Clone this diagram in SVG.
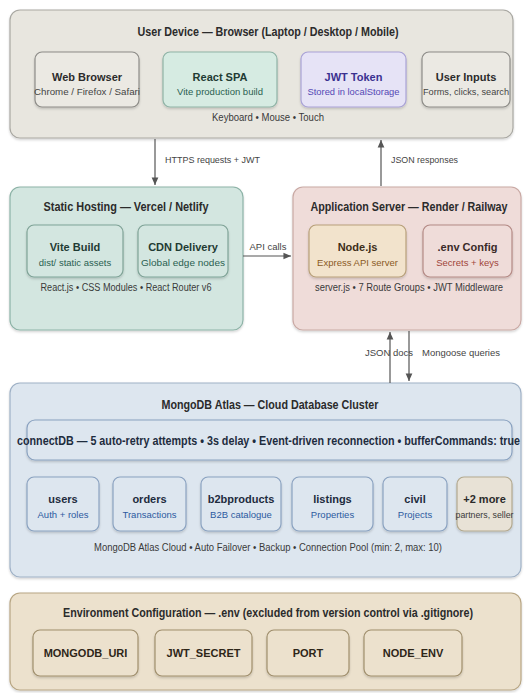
<svg xmlns="http://www.w3.org/2000/svg" width="525" height="693" viewBox="0 0 525 693">
<defs>
<marker id="ah" viewBox="0 0 10 10" refX="9" refY="5" markerWidth="7" markerHeight="7" orient="auto-start-reverse">
<path d="M0,1 L9,5 L0,9 z" fill="#555"/>
</marker>
<filter id="sh" x="-5%" y="-5%" width="110%" height="115%">
<feDropShadow dx="0" dy="1.5" stdDeviation="1" flood-color="#000" flood-opacity="0.18"/>
</filter>
</defs>
<style>
text{font-family:"Liberation Sans","Noto Sans",Arial,sans-serif;text-anchor:middle;}
.t{font-size:12px;font-weight:bold;fill:#2b2b2b;}
.h{font-size:11px;font-weight:bold;}
.s{font-size:9.5px;}
.f{font-size:10px;fill:#3a3a3a;}
.lbl{font-size:9.5px;fill:#444;}
.con{stroke:#555;stroke-width:1.2;fill:none;}
.box{stroke-width:1.2;filter:url(#sh);}
</style>
<rect width="525" height="693" fill="#ffffff"/>

<g id="user-device">
<rect class="box" x="10" y="10" width="503" height="128" rx="10" fill="#e8e6df" stroke="#a9a8a2"/>
<text class="t" x="268" y="36" textLength="261" lengthAdjust="spacingAndGlyphs">User Device — Browser (Laptop / Desktop / Mobile)</text>
<text class="f" x="268" y="121" textLength="112" lengthAdjust="spacingAndGlyphs">Keyboard • Mouse • Touch</text>
</g>
<g id="web-browser">
<rect class="box" x="35" y="52" width="104" height="55" rx="7" fill="#ebe9e3" stroke="#8d8c88"/>
<text class="h" x="87" y="81" fill="#2b2b2b">Web Browser</text>
<text class="s" x="87" y="95" fill="#444" textLength="106" lengthAdjust="spacingAndGlyphs">Chrome / Firefox / Safari</text>
</g>
<g id="react-spa">
<rect class="box" x="163" y="52" width="114" height="55" rx="7" fill="#d6ebe2" stroke="#8fb3a6"/>
<text class="h" x="220" y="81" fill="#1f3b33">React SPA</text>
<text class="s" x="220" y="95" fill="#2a5f50">Vite production build</text>
</g>
<g id="jwt-token">
<rect class="box" x="301" y="52" width="105" height="55" rx="7" fill="#e6e3f6" stroke="#a9a2d6"/>
<text class="h" x="353.5" y="81" fill="#3a3190">JWT Token</text>
<text class="s" x="353.5" y="95" fill="#5549b5" textLength="92" lengthAdjust="spacingAndGlyphs">Stored in localStorage</text>
</g>
<g id="user-inputs">
<rect class="box" x="422" y="52" width="88" height="55" rx="7" fill="#ebe9e3" stroke="#8d8c88"/>
<text class="h" x="466" y="81" fill="#2b2b2b">User Inputs</text>
<text class="s" x="466" y="95" fill="#444" textLength="86" lengthAdjust="spacingAndGlyphs">Forms, clicks, search</text>
</g>

<g id="static-hosting">
<rect class="box" x="10" y="187" width="233" height="143" rx="10" fill="#d3e6e0" stroke="#8db3a7"/>
<text class="t" x="126" y="211" fill="#1f3b33" textLength="165" lengthAdjust="spacingAndGlyphs">Static Hosting — Vercel / Netlify</text>
<text class="f" x="126" y="291" fill="#2d4a42" textLength="171" lengthAdjust="spacingAndGlyphs">React.js • CSS Modules • React Router v6</text>
</g>
<g id="vite-build">
<rect class="box" x="27" y="225" width="96" height="52" rx="7" fill="#d3e6e0" stroke="#7fa397"/>
<text class="h" x="75" y="251" fill="#1f3b33">Vite Build</text>
<text class="s" x="75" y="266" fill="#2a5f50">dist/ static assets</text>
</g>
<g id="cdn-delivery">
<rect class="box" x="138" y="225" width="90" height="52" rx="7" fill="#d3e6e0" stroke="#7fa397"/>
<text class="h" x="183" y="251" fill="#1f3b33">CDN Delivery</text>
<text class="s" x="183" y="266" fill="#2a5f50" textLength="84" lengthAdjust="spacingAndGlyphs">Global edge nodes</text>
</g>

<g id="app-server">
<rect class="box" x="293" y="187" width="228" height="143" rx="10" fill="#efdcd9" stroke="#c9a9a4"/>
<text class="t" x="409" y="211" fill="#3a2a28" textLength="197" lengthAdjust="spacingAndGlyphs">Application Server — Render / Railway</text>
<text class="f" x="409" y="291" fill="#4a3432" textLength="188" lengthAdjust="spacingAndGlyphs">server.js • 7 Route Groups • JWT Middleware</text>
</g>
<g id="nodejs">
<rect class="box" x="309" y="225" width="97" height="52" rx="7" fill="#f2e3cc" stroke="#b8a07a"/>
<text class="h" x="357.5" y="251" fill="#3d2e18">Node.js</text>
<text class="s" x="357.5" y="266" fill="#8a5a1f">Express API server</text>
</g>
<g id="env-config">
<rect class="box" x="423" y="225" width="89" height="52" rx="7" fill="#efdcd9" stroke="#b48a85"/>
<text class="h" x="467.5" y="251" fill="#3a2a28">.env Config</text>
<text class="s" x="467.5" y="266" fill="#a0453a">Secrets + keys</text>
</g>

<g id="mongodb">
<rect class="box" x="10" y="383" width="511" height="194" rx="10" fill="#dde6ef" stroke="#9fb1c6"/>
<text class="t" x="270" y="409" fill="#22303f" textLength="217" lengthAdjust="spacingAndGlyphs">MongoDB Atlas — Cloud Database Cluster</text>
<text class="f" x="268" y="551" fill="#2f3a46" textLength="348" lengthAdjust="spacingAndGlyphs">MongoDB Atlas Cloud • Auto Failover • Backup • Connection Pool (min: 2, max: 10)</text>
</g>
<g id="connectdb">
<rect class="box" x="27" y="420" width="485" height="40" rx="8" fill="#dde6ef" stroke="#8aa2c0"/>
<text x="268.5" y="444.5" font-size="12.5" font-weight="bold" fill="#1e2c3e" textLength="503" lengthAdjust="spacingAndGlyphs">connectDB — 5 auto-retry attempts • 3s delay • Event-driven reconnection • bufferCommands: true</text>
</g>
<g id="users">
<rect class="box" x="27" y="477" width="72" height="54" rx="7" fill="#dde6ef" stroke="#8aa2c0"/>
<text class="h" x="63" y="503" fill="#1e2c3e">users</text>
<text class="s" x="63" y="518" fill="#2c5aa0">Auth + roles</text>
</g>
<g id="orders">
<rect class="box" x="113" y="477" width="73" height="54" rx="7" fill="#dde6ef" stroke="#8aa2c0"/>
<text class="h" x="149.5" y="503" fill="#1e2c3e">orders</text>
<text class="s" x="149.5" y="518" fill="#2c5aa0">Transactions</text>
</g>
<g id="b2bproducts">
<rect class="box" x="201" y="477" width="80" height="54" rx="7" fill="#dde6ef" stroke="#8aa2c0"/>
<text class="h" x="241" y="503" fill="#1e2c3e">b2bproducts</text>
<text class="s" x="241" y="518" fill="#2c5aa0">B2B catalogue</text>
</g>
<g id="listings">
<rect class="box" x="292" y="477" width="81" height="54" rx="7" fill="#dde6ef" stroke="#8aa2c0"/>
<text class="h" x="332.5" y="503" fill="#1e2c3e">listings</text>
<text class="s" x="332.5" y="518" fill="#2c5aa0">Properties</text>
</g>
<g id="civil">
<rect class="box" x="383" y="477" width="64" height="54" rx="7" fill="#dde6ef" stroke="#8aa2c0"/>
<text class="h" x="415" y="503" fill="#1e2c3e">civil</text>
<text class="s" x="415" y="518" fill="#2c5aa0">Projects</text>
</g>
<g id="more">
<rect class="box" x="457" y="477" width="55" height="54" rx="7" fill="#e8e2d6" stroke="#b3a98f"/>
<text class="h" x="484.5" y="503" fill="#2b2b2b">+2 more</text>
<text class="s" x="484.5" y="518" fill="#3a3a3a" textLength="58" lengthAdjust="spacingAndGlyphs">partners, seller</text>
</g>

<g id="env">
<rect class="box" x="10" y="593" width="511" height="97" rx="10" fill="#ece1cd" stroke="#b8a684"/>
<text class="t" x="268" y="617" fill="#2e2618" textLength="410" lengthAdjust="spacingAndGlyphs">Environment Configuration — .env (excluded from version control via .gitignore)</text>
</g>
<g id="mongodb-uri">
<rect class="box" x="33" y="630" width="105" height="46" rx="7" fill="#ece1cd" stroke="#a08f6d"/>
<text class="h" x="85.5" y="657" fill="#2e2618">MONGODB_URI</text>
</g>
<g id="jwt-secret">
<rect class="box" x="155" y="630" width="97" height="46" rx="7" fill="#ece1cd" stroke="#a08f6d"/>
<text class="h" x="203.5" y="657" fill="#2e2618">JWT_SECRET</text>
</g>
<g id="port">
<rect class="box" x="267" y="630" width="82" height="46" rx="7" fill="#ece1cd" stroke="#a08f6d"/>
<text class="h" x="308" y="657" fill="#2e2618">PORT</text>
</g>
<g id="node-env">
<rect class="box" x="364" y="630" width="98" height="46" rx="7" fill="#ece1cd" stroke="#a08f6d"/>
<text class="h" x="413" y="657" fill="#2e2618">NODE_ENV</text>
</g>

<g id="connectors">
<line class="con" x1="155" y1="139" x2="155" y2="185" marker-end="url(#ah)"/>
<text class="lbl" x="165" y="163" style="text-anchor:start" textLength="95" lengthAdjust="spacingAndGlyphs">HTTPS requests + JWT</text>
<line class="con" x1="381" y1="186" x2="381" y2="140" marker-end="url(#ah)"/>
<text class="lbl" x="391" y="163" style="text-anchor:start" textLength="67" lengthAdjust="spacingAndGlyphs">JSON responses</text>
<line class="con" x1="243" y1="256" x2="291" y2="256" marker-end="url(#ah)"/>
<text class="lbl" x="268" y="250">API calls</text>
<line class="con" x1="390" y1="383" x2="390" y2="332" marker-end="url(#ah)"/>
<line class="con" x1="409" y1="331" x2="409" y2="381" marker-end="url(#ah)"/>
<text class="lbl" x="389" y="356" textLength="48" lengthAdjust="spacingAndGlyphs">JSON docs</text>
<text class="lbl" x="422" y="356" style="text-anchor:start" textLength="78" lengthAdjust="spacingAndGlyphs">Mongoose queries</text>
</g>
</svg>
